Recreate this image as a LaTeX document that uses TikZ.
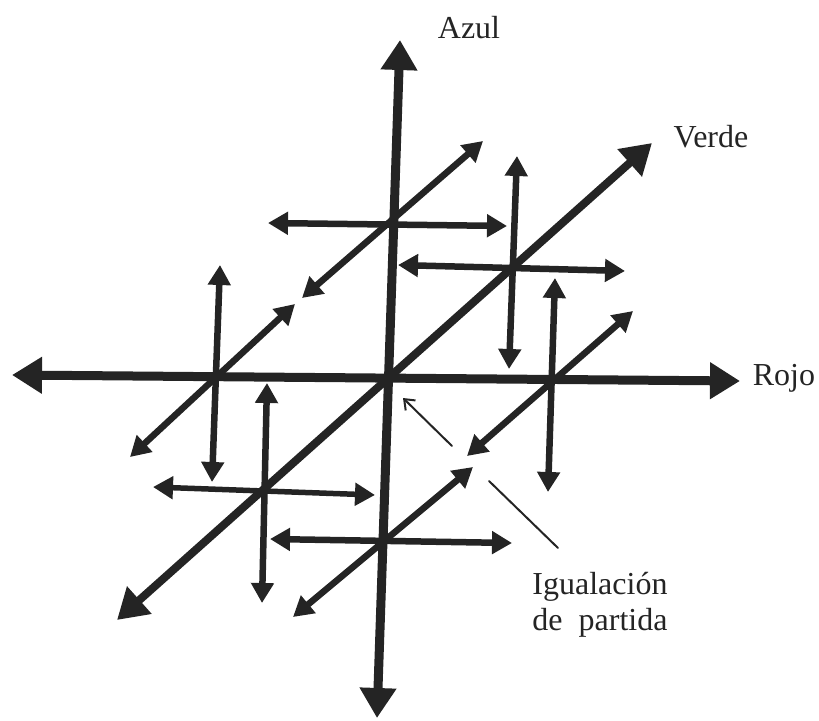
\documentclass[tikz,border=0pt]{standalone}
\usepackage{fontspec}
\setmainfont{Liberation Serif}
\usetikzlibrary{arrows.meta}
\definecolor{ink}{HTML}{242424}
\tikzset{
  mainax/.style={ink, line width=9pt, {Triangle[length=30pt,width=35pt]}-{Triangle[length=30pt,width=35pt]}},
  subax/.style={ink, line width=6.5pt, {Triangle[length=20pt,width=22pt]}-{Triangle[length=20pt,width=22pt]}},
  thinax/.style={ink, line width=2pt, line cap=round},
  lbl/.style={font=\fontsize{32}{36}\selectfont, text=ink, inner sep=0pt}
}
\begin{document}
\begin{tikzpicture}[x=1pt,y=-1pt]
\useasboundingbox (0,0) rectangle (819,720);
% main axes end points
\coordinate (bT) at (400,40);   \coordinate (bB) at (377,718);
\coordinate (rL) at (12,375);   \coordinate (rR) at (740,381);
\coordinate (gL) at (117,620);  \coordinate (gR) at (652,143);
% sub-cross A (upper, on blue axis)
\coordinate (aHL) at (268,223); \coordinate (aHR) at (507,226);
\coordinate (aDL) at (302,298); \coordinate (aDR) at (483,141);
% sub-cross B (upper right, on green axis)
\coordinate (bVT) at (517,156); \coordinate (bVB) at (509,369);
\coordinate (bHL) at (398,265); \coordinate (bHR) at (625,271);
% sub-cross C (left, on red axis)
\coordinate (cVT) at (220,265); \coordinate (cVB) at (212,482);
\coordinate (cDR) at (295,304); \coordinate (cDL) at (130,457);
% sub-cross D (right, on red axis)
\coordinate (dVT) at (555,278); \coordinate (dVB) at (548,492);
\coordinate (dDR) at (633,311); \coordinate (dDL) at (467,456);
% sub-cross E (lower left, on green axis)
\coordinate (eVT) at (267,383); \coordinate (eVB) at (262,603);
\coordinate (eHL) at (153,487); \coordinate (eHR) at (375,495);
% sub-cross F (lower, on blue axis)
\coordinate (fHL) at (270,539); \coordinate (fHR) at (512,543);
\coordinate (fDL) at (293,617); \coordinate (fDR) at (473,467);
% pointer lines
\coordinate (p1s) at (452,446); \coordinate (p1e) at (403,398);
\coordinate (p2s) at (489,481); \coordinate (p2e) at (558,548);

% sub-crosses
\draw[subax] (aHL) -- (aHR);
\draw[subax] (aDL) -- (aDR);
\draw[subax] (bVT) -- (bVB);
\draw[subax] (bHL) -- (bHR);
\draw[subax] (cVT) -- (cVB);
\draw[subax] (cDL) -- (cDR);
\draw[subax] (dVT) -- (dVB);
\draw[subax] (dDL) -- (dDR);
\draw[subax] (eVT) -- (eVB);
\draw[subax, line width=5.5pt] (eHL) -- (eHR);
\draw[subax] (fHL) -- (fHR);
\draw[subax] (fDL) -- (fDR);

% main axes
\draw[mainax] (bB) -- (bT);
\draw[mainax] (rL) -- (rR);
\draw[mainax, line width=8pt] (gL) -- (gR);

% pointer
\draw[thinax, -{Straight Barb[length=9pt,width=14pt,line width=2pt]}] (p1s) -- (p1e);
\draw[thinax] (p2s) -- (p2e);

% labels
\node[lbl, anchor=base] (azul) at (469,38) {Azul};
\node[lbl, anchor=base] (verde) at (711,147) {Verde};
\node[lbl, anchor=base] (rojo) at (784,385) {Rojo};
\node[lbl, anchor=base] (igual) at (600,594) {Igualación};
\node[lbl, anchor=base] (partida) at (600,630) {de\ \ partida};
\end{tikzpicture}
\end{document}
